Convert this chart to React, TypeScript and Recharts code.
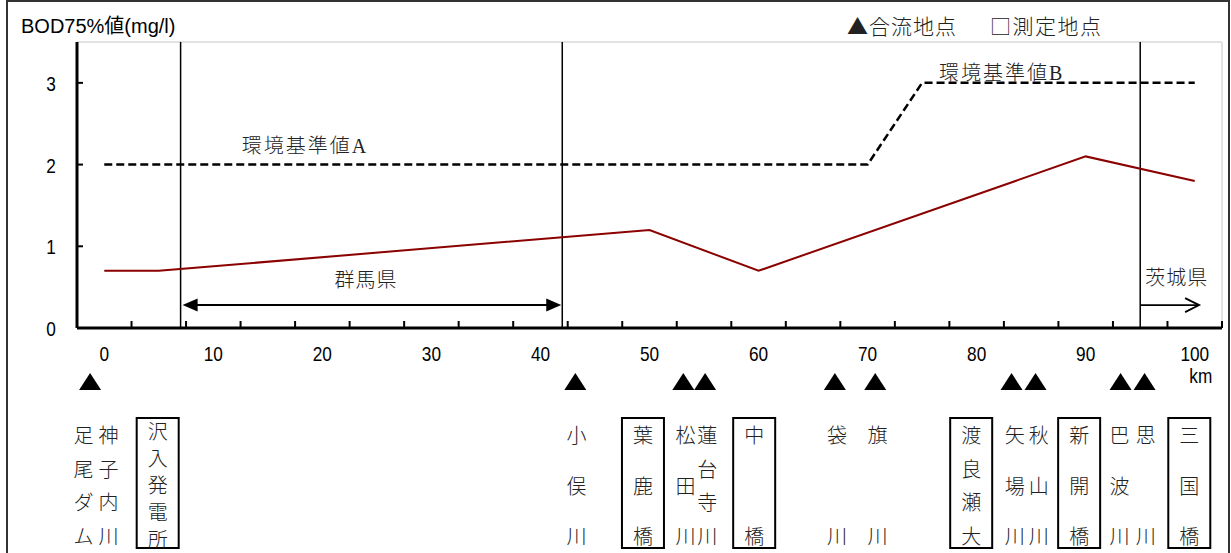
import { ComposedChart, Line, XAxis, YAxis, ReferenceLine, ReferenceDot } from 'recharts';

const W = 1231;
const H = 553;
const X_AXIS_H = 225;
const AXIS_Y = H - X_AXIS_H;

// BOD 75% values along the river (km from source)
const bodKm = [0, 5, 50, 60, 90, 100];
const bodValue = [0.7, 0.7, 1.2, 0.7, 2.1, 1.8];

// environmental standard (A up to 70 km, B from 75 km)
const stdKm = [0, 70, 75, 100];
const stdValue = [2, 2, 3, 3];

const stdLabels = ['環境基準値A', '環境基準値B'];
const stdLabelKm = [18.4, 82.3];
const stdLabelValue = [2.23, 3.12];

// prefecture borders
const borderKm = [7, 42, 95];
const arrowLevel = 0.28;

const majorTicks = [0, 10, 20, 30, 40, 50, 60, 70, 80, 90, 100];
const minorTicks = [
  -2.5, 2.5, 7.5, 12.5, 17.5, 22.5, 27.5, 32.5, 37.5, 42.5, 47.5,
  52.5, 57.5, 62.5, 67.5, 72.5, 77.5, 82.5, 87.5, 92.5, 97.5, 102.5,
];

const confluenceKm = [-1.3, 43.2, 53.1, 55.1, 67.0, 70.7, 83.2, 85.4, 93.2, 95.4];

const stationNames = [
  '足尾ダム', '神子内川', '沢入発電所', '小俣川', '葉鹿橋', '松田川', '蓮台寺川', '中橋',
  '袋川', '旗川', '渡良瀬大', '矢場川', '秋山川', '新開橋', '巴波川', '思川', '三国橋',
];
const stationKm = [
  -1.9, 0.4, 4.9, 43.3, 49.4, 53.3, 55.3, 59.6,
  67.2, 70.9, 79.5, 83.5, 85.7, 89.4, 93.1, 95.5, 99.5,
];
const stationBoxed = [
  false, false, true, false, true, false, false, true,
  false, false, true, false, false, true, false, false, true,
];

const allTicks = [...minorTicks, ...majorTicks, ...confluenceKm, ...stationKm].sort((a, b) => a - b);

const bodData = bodKm.map((km, i) => ({ km, v: bodValue[i] }));
const stdData = stdKm.map((km, i) => ({ km, v: stdValue[i] }));

const numFont = "'Liberation Sans', Arial, sans-serif";
const jpFont = "'Liberation Serif', 'Noto Sans CJK JP', serif";

const NarrowNum = ({ x, y, children }: any) => (
  <text
    transform={`translate(${x},${y}) scale(0.82,1)`}
    textAnchor="middle"
    dominantBaseline="central"
    fontSize={21}
    fontFamily={numFont}
    fill="#000"
  >
    {children}
  </text>
);

const StationText = ({ x, i }: { x: number; i: number }) => {
  const chars = Array.from(stationNames[i]);
  const n = chars.length;
  const top = AXIS_Y + (n >= 5 ? 104 : 108);
  const bottom = AXIS_Y + (n >= 5 ? 212 : 209);
  const step = n > 1 ? (bottom - top) / (n - 1) : 0;
  return (
    <g>
      {stationBoxed[i] && (
        <rect x={x - 21} y={AXIS_Y + 90} width={42} height={130} fill="none" stroke="#000" strokeWidth={2} />
      )}
      {chars.map((c, k) => (
        <text key={k} x={x} y={top + k * step} textAnchor="middle" dominantBaseline="central" fontSize={20} fontWeight={300} fontFamily={jpFont} fill="#222">
          {c}
        </text>
      ))}
    </g>
  );
};

const AxisTick = (props: any) => {
  const { x, payload } = props;
  const v = payload.value;
  if (minorTicks.includes(v)) {
    return <line x1={x} x2={x} y1={AXIS_Y - 7} y2={AXIS_Y} stroke="#000" strokeWidth={2} />;
  }
  if (confluenceKm.includes(v)) {
    const cy = AXIS_Y + 53;
    return <polygon points={`${x - 11},${cy + 9} ${x + 11},${cy + 9} ${x},${cy - 8}`} fill="#000" />;
  }
  const si = stationKm.indexOf(v);
  if (si >= 0) return <StationText x={x} i={si} />;
  return (
    <g>
      <NarrowNum x={x} y={AXIS_Y + 26}>{v}</NarrowNum>
      {v === 100 && <NarrowNum x={x + 6} y={AXIS_Y + 48}>km</NarrowNum>}
    </g>
  );
};

const YTick = (props: any) => {
  const { x, y, payload } = props;
  return (
    <g>
      <line x1={x} x2={x + 6} y1={y} y2={y} stroke="#000" strokeWidth={2} />
      <NarrowNum x={x - 26} y={y + 1}>{payload.value}</NarrowNum>
    </g>
  );
};

const DoubleArrow = (p: any) => {
  const { x1, x2, y1 } = p;
  const a = x1 + 2;
  const b = x2 - 1;
  return (
    <g>
      <line x1={a + 14} x2={b - 14} y1={y1} y2={y1} stroke="#000" strokeWidth={2} />
      <polygon points={`${a},${y1} ${a + 15},${y1 - 6.5} ${a + 15},${y1 + 6.5}`} fill="#000" />
      <polygon points={`${b},${y1} ${b - 15},${y1 - 6.5} ${b - 15},${y1 + 6.5}`} fill="#000" />
      <text x={(a + b) / 2 - 6} y={y1 - 25} textAnchor="middle" dominantBaseline="central" fontSize={20} fontWeight={300} fontFamily={jpFont} fill="#222" letterSpacing={1}>
        群馬県
      </text>
    </g>
  );
};

const OpenArrow = (p: any) => {
  const { x1, x2, y1 } = p;
  return (
    <g>
      <line x1={x1} x2={x2} y1={y1} y2={y1} stroke="#000" strokeWidth={1.8} />
      <polyline points={`${x2 - 14},${y1 - 7} ${x2},${y1} ${x2 - 14},${y1 + 7}`} fill="none" stroke="#000" strokeWidth={1.8} />
      <text x={(x1 + x2) / 2 + 7} y={y1 - 27} textAnchor="middle" dominantBaseline="central" fontSize={20} fontWeight={300} fontFamily={jpFont} fill="#222" letterSpacing={1}>
        茨城県
      </text>
    </g>
  );
};

const StdLabel = (idx: number) => (p: any) => (
  <text x={p.cx} y={p.cy} textAnchor="middle" dominantBaseline="central" fontSize={20} fontWeight={300} fontFamily={jpFont} fill="#222" letterSpacing={2}>
    {stdLabels[idx]}
  </text>
);

export default function App() {
  return (
    <div style={{ position: 'absolute', left: 0, top: 0, width: W, height: H, overflow: 'hidden', background: '#fff' }}>
      <ComposedChart width={W} height={H} margin={{ top: 42, right: 9, left: 0, bottom: 0 }}>
        <XAxis
          dataKey="km"
          type="number"
          domain={[-2.5, 102.5]}
          allowDataOverflow
          ticks={allTicks}
          interval={0}
          height={X_AXIS_H}
          axisLine={{ stroke: '#000', strokeWidth: 3 }}
          tickLine={false}
          tickSize={0}
          tickMargin={0}
          tick={AxisTick}
        />
        <YAxis
          width={77}
          type="number"
          domain={[0, 3.5]}
          allowDataOverflow
          ticks={[0, 1, 2, 3]}
          interval={0}
          axisLine={{ stroke: '#000', strokeWidth: 3 }}
          tickLine={false}
          tickSize={0}
          tickMargin={0}
          tick={YTick}
        />
        <ReferenceLine y={3.5} stroke="#d9d9d9" strokeWidth={1.5} />
        <ReferenceLine x={102.5} stroke="#d9d9d9" strokeWidth={1.5} />
        {borderKm.map((km) => (
          <ReferenceLine key={km} x={km} stroke="#000" strokeWidth={1.5} />
        ))}
        <ReferenceLine
          segment={[{ x: borderKm[0], y: arrowLevel }, { x: borderKm[1], y: arrowLevel }]}
          shape={DoubleArrow}
        />
        <ReferenceLine
          segment={[{ x: borderKm[2], y: arrowLevel }, { x: 100.4, y: arrowLevel }]}
          shape={OpenArrow}
        />
        <Line
          data={stdData}
          dataKey="v"
          type="linear"
          stroke="#000"
          strokeWidth={2.5}
          strokeDasharray="8 4"
          dot={false}
          isAnimationActive={false}
        />
        <Line
          data={bodData}
          dataKey="v"
          type="linear"
          stroke="#8b0000"
          strokeWidth={2}
          dot={false}
          isAnimationActive={false}
        />
        {stdLabels.map((s, i) => (
          <ReferenceDot key={s} x={stdLabelKm[i]} y={stdLabelValue[i]} r={0} shape={StdLabel(i)} />
        ))}
      </ComposedChart>
      <div
        style={{
          position: 'absolute', left: 6, top: 0, width: 1220, height: 600,
          borderTop: '2px solid #333', borderLeft: '2px solid #333', borderRight: '2px solid #333',
          pointerEvents: 'none',
        }}
      />
      <div style={{ position: 'absolute', left: 21, top: 13, fontSize: 20, lineHeight: '26px', fontFamily: "'Liberation Sans', 'Noto Sans CJK JP', sans-serif", color: '#000' }}>
        BOD75%値(mg/l)
      </div>
      <div style={{ position: 'absolute', left: 847, top: 12, fontSize: 21, lineHeight: '26px', fontFamily: "'Noto Sans CJK JP', sans-serif", fontWeight: 300, color: '#222', letterSpacing: 1 }}>
        ▲合流地点
      </div>
      <div style={{ position: 'absolute', left: 990, top: 12, fontSize: 21, lineHeight: '26px', fontFamily: "'Noto Sans CJK JP', sans-serif", fontWeight: 300, color: '#222', letterSpacing: 1.5 }}>
        □測定地点
      </div>
    </div>
  );
}
